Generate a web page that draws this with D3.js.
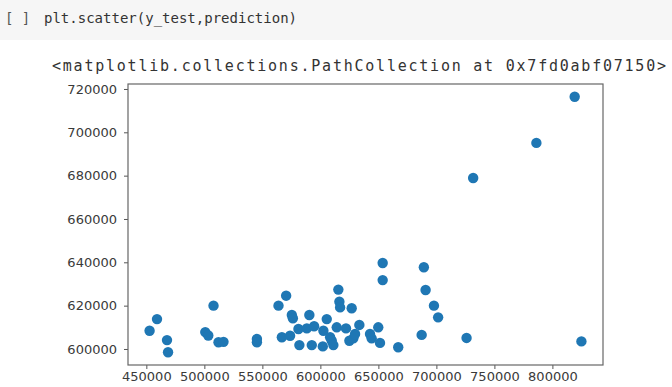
<!DOCTYPE html>
<html>
<head>
<meta charset="utf-8">
<script src="https://cdn.jsdelivr.net/npm/d3@7"></script>
<style>
  body { margin: 0; background: #fff; }
  svg { display: block; }
</style>
</head>
<body>
<div id="chart"></div>
<script>
// y_test (x axis) and prediction (y axis)
const yTest = [
  452800, 459200, 467800, 468700, 500800, 503400, 507900, 512200, 516500, 545300,
  545300, 563900, 570500, 566800, 573900, 575400, 576300, 581100, 581900, 588300,
  590500, 592600, 594600, 602100, 602600, 605500, 608400, 609800, 611200, 614100,
  615500, 616400, 617000, 622100, 625000, 628400, 629900, 627000, 633600, 642800,
  644200, 649900, 651400, 653700, 653700, 667100, 687300, 689200, 690700, 697900,
  701500, 726000, 731700, 786200, 819200, 825000
];
const prediction = [
  608400, 613800, 604100, 598500, 607800, 606200, 620000, 603100, 603300, 604600,
  603100, 620000, 624600, 605400, 606100, 615700, 614200, 609200, 601800, 609500,
  615700, 601800, 610500, 601200, 608400, 613800, 605400, 603800, 601800, 610000,
  627400, 621800, 619200, 609500, 603800, 604900, 606900, 618800, 611100, 606900,
  604900, 610000, 602800, 639700, 631800, 600800, 606500, 637700, 627200, 620000,
  614600, 605100, 678900, 695100, 716400, 603500
];
const xTicks = [450000, 500000, 550000, 600000, 650000, 700000, 750000, 800000];
const yTicks = [600000, 620000, 640000, 660000, 680000, 700000, 720000];

const codeLine = "plt.scatter(y_test,prediction)";
const outLine = "<matplotlib.collections.PathCollection at 0x7fd0abf07150>";

const width = 672, height = 387;
const margin = { top: 84, right: 69, bottom: 22, left: 128 };

const svg = d3.select("#chart").append("svg")
  .attr("width", width)
  .attr("height", height);

// code cell band
svg.append("rect")
  .attr("x", 0).attr("y", 0)
  .attr("width", width).attr("height", 40)
  .attr("fill", "#f6f6f6");

svg.append("text")
  .attr("x", 5).attr("y", 23)
  .attr("font-family", "DejaVu Sans Mono")
  .attr("font-size", 14)
  .attr("fill", "#555")
  .text("[ ]");

svg.append("text")
  .attr("x", 44).attr("y", 23)
  .attr("font-family", "DejaVu Sans Mono")
  .attr("font-size", 14)
  .attr("fill", "#333")
  .attr("textLength", 253)
  .text(codeLine);

svg.append("text")
  .attr("x", 52).attr("y", 71)
  .attr("font-family", "DejaVu Sans Mono")
  .attr("font-size", 15)
  .attr("fill", "#333")
  .attr("textLength", 614)
  .text(outLine);

// matplotlib style 5% margins
const pad = (ext) => {
  const r = ext[1] - ext[0];
  return [ext[0] - r * 0.05, ext[1] + r * 0.05];
};

const x = d3.scaleLinear()
  .domain(pad(d3.extent(yTest)))
  .range([margin.left, width - margin.right]);

const y = d3.scaleLinear()
  .domain(pad(d3.extent(prediction)))
  .range([height - margin.bottom, margin.top]);

const xAxis = svg.append("g")
  .attr("transform", `translate(0,${height - margin.bottom})`)
  .call(d3.axisBottom(x).tickValues(xTicks).tickFormat(d3.format("d")).tickSize(4).tickPadding(3));

const yAxis = svg.append("g")
  .attr("transform", `translate(${margin.left},0)`)
  .call(d3.axisLeft(y).tickValues(yTicks).tickFormat(d3.format("d")).tickSize(4).tickPadding(7));

[xAxis, yAxis].forEach(g => {
  g.select(".domain").remove();
  g.selectAll(".tick line").attr("stroke", "#555");
  g.selectAll(".tick text")
    .attr("font-family", "DejaVu Sans")
    .attr("font-size", 13)
    .attr("fill", "#3a3a3a");
});

// frame
svg.append("rect")
  .attr("x", margin.left).attr("y", margin.top)
  .attr("width", width - margin.left - margin.right)
  .attr("height", height - margin.top - margin.bottom)
  .attr("fill", "none")
  .attr("stroke", "#666")
  .attr("stroke-width", 1.2);

svg.append("g")
  .selectAll("circle")
  .data(yTest)
  .join("circle")
  .attr("cx", d => x(d))
  .attr("cy", (d, i) => y(prediction[i]))
  .attr("r", 5.2)
  .attr("fill", "#1f77b4");
</script>
</body>
</html>
